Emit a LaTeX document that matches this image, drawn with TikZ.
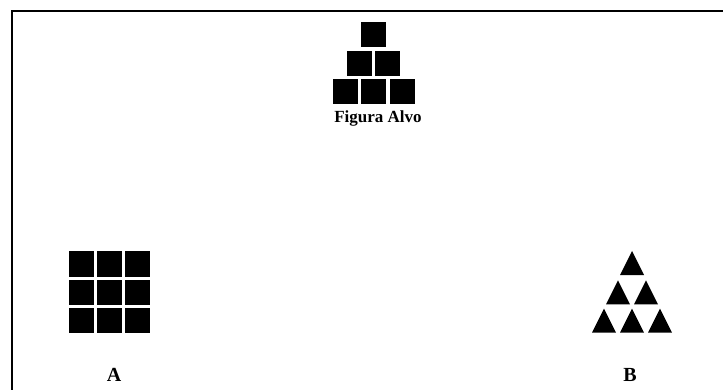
\documentclass[tikz,border=0pt]{standalone}
\usepackage{fontspec}
\setmainfont{Liberation Serif}
\usepackage{tikz}
\usetikzlibrary{positioning, shapes.geometric}

\begin{document}
\begin{tikzpicture}[
    x=1pt, y=-1pt,
    node distance=3.5pt,
    sq/.style={rectangle, fill=black, inner sep=0pt, outer sep=0pt,
               minimum size=25pt},
    tri/.style={isosceles triangle, isosceles triangle stretches,
                shape border rotate=90, fill=black, inner sep=0pt,
                outer sep=0pt, minimum width=24pt, minimum height=24pt,
                anchor=lower side},
    lbl/.style={font=\bfseries\fontsize{20}{24}\selectfont, inner sep=0pt,
                anchor=base},
    frame/.style={line width=2.5pt}
]
\useasboundingbox (0,0) rectangle (723,390);

\draw[frame] (12,390) -- (12,11) -- (723,11);

% target pyramid
\node[sq] (p1) at (373.5,34.8) {};
\node[sq] (p2) at (359.25,63.3) {};
\node[sq, right=of p2] (p3) {};
\node[sq] (p4) at (345,91.8) {};
\node[sq, right=of p4] (p5) {};
\node[sq, right=of p5] (p6) {};
\node[lbl, font=\bfseries\fontsize{17}{20}\selectfont] (alvo) at (378,123) {Figura Alvo};

% option A
\node[sq] (a1) at (81,264) {};
\node[sq, right=3pt of a1] (a2) {};
\node[sq, right=3pt of a2] (a3) {};
\node[sq, below=3pt of a1] (a4) {};
\node[sq, right=3pt of a4] (a5) {};
\node[sq, right=3pt of a5] (a6) {};
\node[sq, below=3pt of a4] (a7) {};
\node[sq, right=3pt of a7] (a8) {};
\node[sq, right=3pt of a8] (a9) {};
\node[lbl] (labA) at (114,381.5) {A};

% option B
\node[tri] (b1) at (632,275) {};
\node[tri] (b2) at (618,304.3) {};
\node[tri] (b3) at (646,304.3) {};
\node[tri] (b4) at (604,332.7) {};
\node[tri] (b5) at (632,332.7) {};
\node[tri] (b6) at (660,332.7) {};
\node[lbl] (labB) at (630,381.5) {B};

\end{tikzpicture}
\end{document}
